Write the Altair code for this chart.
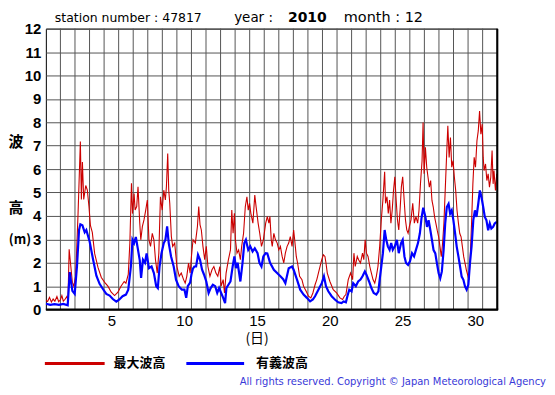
import altair as alt
import pandas as pd

# ---- data (days elapsed since 1 Dec 00:00, wave height in m) ----
red_t = [0.00,0.12,0.25,0.38,0.50,0.62,0.76,0.88,1.00,1.10,1.20,1.32,1.44,1.52,
 1.60,1.71,1.82,1.92,2.05,2.21,2.37,2.44,2.51,2.60,2.74,2.85,2.96,3.06,3.19,3.35,3.58,3.81,4.04,4.26,4.49,4.72,4.95,
 5.16,5.38,5.50,5.66,5.77,5.88,5.95,6.06,6.13,6.24,6.33,6.45,6.52,6.63,6.74,6.86,6.97,7.08,7.19,7.31,7.42,7.53,7.65,7.76,7.87,7.99,8.10,8.21,8.28,8.37,8.44,8.51,8.62,8.71,8.85,9.00,9.16,9.30,9.46,9.57,9.68,9.80,9.91,
 10.00,10.11,10.27,10.41,10.50,10.59,10.68,10.79,10.91,11.02,11.13,11.27,11.41,11.54,11.68,11.81,11.95,12.04,12.18,12.27,12.38,12.54,12.68,12.77,12.86,12.95,13.02,13.13,13.24,13.36,13.45,13.58,13.70,13.81,13.90,13.99,14.08,14.22,14.35,14.44,14.58,14.69,14.81,14.94,15.10,15.21,
 15.32,15.39,15.48,15.55,15.66,15.77,15.89,16.00,16.11,16.23,16.34,16.45,16.57,16.68,16.79,16.91,17.02,17.09,17.20,17.29,17.43,17.59,17.70,17.88,18.04,18.20,18.34,18.49,18.61,18.72,18.83,18.95,19.06,19.17,19.24,19.33,19.51,19.74,19.97,20.20,20.38,
 20.50,20.61,20.77,20.93,21.07,21.16,21.25,21.39,21.48,21.61,21.75,21.84,21.93,22.02,22.13,22.25,22.36,22.47,22.59,22.70,22.81,22.93,23.04,23.15,23.27,23.33,23.43,23.52,23.61,23.70,23.79,23.88,23.97,24.06,24.15,24.24,24.33,24.42,24.51,24.61,24.70,24.79,24.88,24.97,25.08,25.20,25.31,25.42,25.54,25.63,
 25.73,25.84,25.91,25.98,26.07,26.16,26.25,26.34,26.43,26.52,26.61,26.70,26.79,26.88,26.98,27.07,27.16,27.25,27.34,27.43,27.52,27.61,27.70,27.79,27.88,27.97,28.06,28.15,28.24,28.34,28.43,28.52,28.61,28.70,28.79,28.88,28.97,29.06,29.15,29.24,29.33,29.42,29.51,29.61,29.70,29.79,29.88,29.97,30.04,30.10,30.20,30.29,30.38,30.47,30.56,30.65,30.72,30.78,30.88,30.97]
red_v = [0.40,0.35,0.52,0.32,0.45,0.36,0.56,0.34,0.42,0.60,0.36,0.44,0.56,0.40,
 2.58,1.87,1.16,1.00,1.45,4.07,7.18,4.70,6.30,4.70,5.30,5.10,4.40,3.60,3.30,2.40,1.80,1.37,1.16,1.00,0.74,0.60,0.74,
 1.00,1.20,1.13,1.50,2.84,5.39,4.10,4.96,4.25,4.40,5.25,3.69,2.98,3.55,3.83,4.25,4.68,2.98,2.70,3.26,2.98,2.13,1.56,2.41,4.82,4.25,5.10,4.68,5.25,6.67,5.10,4.54,3.12,2.70,2.84,1.84,1.42,1.56,1.28,1.13,1.42,1.99,1.56,
 2.27,2.98,2.84,3.55,4.40,3.62,3.40,2.70,2.13,2.70,1.84,1.42,1.70,1.84,1.56,1.42,1.84,1.00,1.28,0.71,1.56,2.13,2.55,4.25,3.26,4.11,2.98,2.41,2.55,2.13,2.70,3.26,4.40,4.82,4.25,4.54,4.11,3.69,4.89,4.40,3.69,3.26,2.70,2.98,3.69,3.97,
 3.69,3.97,2.98,2.70,3.26,2.98,2.84,2.55,2.70,2.27,1.99,2.41,2.70,2.84,3.12,2.70,3.40,2.98,2.27,1.99,1.42,1.28,1.00,0.78,0.57,0.50,0.71,1.06,1.28,1.56,1.84,2.13,2.34,2.27,1.99,1.56,1.20,0.85,0.71,0.50,0.43,
 0.57,0.64,1.28,1.56,1.28,2.41,1.84,2.27,2.13,1.99,2.41,2.13,2.98,2.41,2.27,1.84,1.56,1.28,1.13,1.42,1.84,2.70,3.83,4.68,5.89,4.54,4.82,4.11,4.68,3.69,4.25,5.10,5.67,4.68,3.83,3.40,4.25,5.25,5.67,4.68,3.83,3.40,3.26,3.55,3.83,4.54,3.69,3.97,3.69,4.24,
 5.37,6.36,7.99,5.80,6.93,6.08,5.65,5.23,5.51,4.66,4.38,3.96,3.68,3.39,3.11,2.69,2.26,2.83,3.68,5.09,6.50,7.85,6.50,7.35,6.08,6.36,5.65,5.09,4.24,3.68,3.25,3.11,2.69,2.26,1.98,1.70,1.48,1.27,2.26,3.68,5.37,6.50,6.08,7.21,7.63,8.48,7.49,7.92,6.50,5.94,6.22,5.51,5.80,5.23,5.65,6.79,5.37,5.94,5.09,5.80]

blue_t = [0.00,0.30,0.60,0.90,1.20,1.50,1.64,1.82,1.98,2.14,2.28,2.37,2.51,2.67,2.78,3.01,3.24,3.47,3.69,3.92,4.15,4.38,4.60,4.84,5.05,5.27,5.50,5.66,5.84,5.95,6.06,6.18,6.29,6.45,6.54,6.67,6.81,6.92,7.08,7.26,7.42,7.58,7.69,7.81,7.94,8.10,8.21,8.33,8.44,8.60,8.78,8.94,9.12,9.34,9.52,9.64,9.75,9.91,
 10.00,10.10,10.20,10.32,10.45,10.59,10.73,10.86,11.02,11.18,11.32,11.47,11.63,11.77,11.90,12.04,12.18,12.31,12.40,12.54,12.68,12.83,12.95,13.06,13.17,13.36,13.51,13.63,13.74,13.90,14.04,14.20,14.35,14.54,14.67,14.81,14.94,15.10,15.21,15.40,15.66,15.90,16.11,16.30,16.45,16.68,16.91,17.02,17.25,17.47,17.70,17.93,18.15,18.34,18.49,18.72,18.95,19.10,19.24,19.40,19.63,19.85,
 20.08,20.31,20.45,20.61,20.71,20.84,21.00,21.11,21.29,21.45,21.61,21.75,21.91,22.02,22.20,22.36,22.52,22.70,22.84,22.93,23.04,23.15,23.27,23.38,23.49,23.61,23.72,23.83,23.97,24.11,24.24,24.40,24.51,24.63,24.74,24.88,25.01,25.15,25.29,25.42,25.56,25.69,25.80,25.92,
 26.07,26.18,26.29,26.41,26.52,26.63,26.75,26.86,26.98,27.09,27.20,27.32,27.43,27.54,27.66,27.77,27.88,27.99,28.11,28.22,28.34,28.45,28.56,28.68,28.79,28.90,29.02,29.13,29.24,29.36,29.47,29.58,29.70,29.81,29.92,30.04,30.15,30.26,30.38,30.49,30.60,30.72,30.83,30.97]
blue_v = [0.25,0.20,0.23,0.20,0.24,0.18,1.60,0.80,0.67,1.87,3.40,3.64,3.60,3.30,3.40,2.90,2.15,1.45,1.10,0.88,0.67,0.60,0.45,0.34,0.43,0.57,0.64,0.85,1.84,2.98,2.84,3.10,2.70,2.10,1.35,2.13,2.00,2.40,1.77,1.84,1.56,1.00,0.92,1.84,2.40,2.84,2.98,3.55,2.84,2.27,1.84,1.28,1.00,0.85,0.85,0.50,1.00,1.15,
 1.50,1.75,1.84,1.84,2.34,2.13,1.70,1.50,1.20,0.71,0.92,1.06,1.00,0.71,0.92,0.71,0.50,0.28,0.92,1.06,1.20,1.84,2.27,1.77,2.00,1.20,2.00,2.84,2.98,2.55,2.70,2.48,2.62,2.41,2.00,1.84,2.27,2.41,2.40,2.00,1.70,1.55,1.42,1.30,1.13,1.77,1.84,1.70,1.28,0.85,0.64,0.50,0.35,0.43,0.57,0.85,1.13,1.42,1.00,0.78,0.57,0.43,
 0.31,0.28,0.35,0.31,0.57,0.85,0.78,1.13,1.00,1.20,1.28,1.42,1.63,1.49,1.20,0.92,0.71,0.64,0.78,1.28,1.84,2.41,3.40,2.98,2.70,2.55,2.84,2.55,2.70,2.98,2.41,2.84,2.98,2.27,1.99,1.91,2.06,2.41,2.27,2.55,2.84,3.26,3.90,4.35,
 3.96,3.53,3.82,3.39,2.97,2.54,2.40,1.98,1.55,1.34,1.63,2.54,3.68,4.38,4.52,4.10,4.24,3.82,3.25,2.69,2.26,1.84,1.41,1.27,0.99,0.85,1.06,1.98,2.69,3.82,4.24,3.96,4.52,5.09,4.81,4.38,3.96,3.82,3.39,3.68,3.46,3.53,3.68,3.75]

x_grid = list(range(1, 31))          # day boundaries
y_ticks = list(range(0, 13))
x_label_days = [5, 10, 15, 20, 25, 30]

title_parts = ["station number : 47817", "year :", "2010", "month : 12"]
series_names = ["最大波高", "有義波高"]
series_colors = ["#cc0000", "#0000ff"]
copyright_text = "All rights reserved. Copyright © Japan Meteorological Agency"

W, H = 453, 282
red_df = pd.DataFrame({"t": red_t, "v": red_v})
blue_df = pd.DataFrame({"t": blue_t, "v": blue_v})
grid_df = pd.DataFrame({"g": x_grid})

xs = alt.Scale(domain=[0, 31], nice=False, zero=False)
ys = alt.Scale(domain=[0, 12], nice=False)

xaxis = alt.Axis(values=[d - 0.5 for d in x_label_days], labelExpr="format(datum.value + 0.5, 'd')",
                 grid=False, ticks=False, domain=False, labelFontSize=15, labelFont="Liberation Sans",
                 labelColor="black", labelPadding=4, title=None)
yaxis = alt.Axis(values=y_ticks, grid=True, gridColor="#555555", gridWidth=1, gridOpacity=1,
                 ticks=False, domain=False, labelFontSize=15, labelFontWeight="bold",
                 labelFont="Liberation Sans", labelColor="black", labelPadding=5, title=None)

vgrid = alt.Chart(grid_df).mark_rule(color="#555555", strokeWidth=1).encode(
    x=alt.X("g:Q", scale=xs, axis=xaxis))

red_line = alt.Chart(red_df).mark_line(color=series_colors[0], strokeWidth=1.1, clip=True).encode(
    x=alt.X("t:Q", scale=xs, axis=xaxis), y=alt.Y("v:Q", scale=ys, axis=yaxis))
blue_line = alt.Chart(blue_df).mark_line(color=series_colors[1], strokeWidth=2.2, clip=True).encode(
    x=alt.X("t:Q", scale=xs, axis=xaxis), y=alt.Y("v:Q", scale=ys, axis=yaxis))

one = pd.DataFrame({"k": [0]})

def txt(s, x, y, size=14, weight="normal", font="Liberation Sans", align="left", color="black",
        baseline="middle"):
    return alt.Chart(pd.DataFrame({"s": [s]})).mark_text(
        fontSize=size, fontWeight=weight, font=font, align=align, baseline=baseline, color=color
    ).encode(x=alt.value(x), y=alt.value(y), text="s:N")

def hrule(x1, x2, y, color, w):
    return alt.Chart(one).mark_rule(color=color, strokeWidth=w).encode(
        x=alt.value(x1), x2=alt.value(x2), y=alt.value(y))

# frame edges (heavier right/bottom)
right_edge = alt.Chart(one).mark_rule(color="black", strokeWidth=2).encode(
    x=alt.value(W), y=alt.value(0), y2=alt.value(H))
bottom_edge = hrule(0, W + 1, H, "black", 2)

ox, oy = 46, 28  # plot origin in page pixels
layers = [
    vgrid, red_line, blue_line, right_edge, bottom_edge,
    txt(title_parts[0], 55 - ox, 17 - oy, 12.5, font="DejaVu Sans"),
    txt(title_parts[1], 235 - ox, 17 - oy, 13.5, font="DejaVu Sans"),
    txt(title_parts[2], 289 - ox, 17 - oy, 14, "bold", font="DejaVu Sans"),
    txt(title_parts[3], 345 - ox, 17 - oy, 14.5, font="DejaVu Sans"),
    txt("波", 16 - ox, 142 - oy, 15, "bold", "Noto Sans CJK JP", "center"),
    txt("高", 16 - ox, 208 - oy, 15, "bold", "Noto Sans CJK JP", "center"),
    txt("(m)", 20 - ox, 240 - oy, 13, "bold", "Noto Sans CJK JP", "center"),
    txt("(日)", 258 - ox, 340 - oy, 14, "normal", "Noto Sans CJK JP", "center"),
    hrule(45 - ox, 105 - ox, 364 - oy, series_colors[0], 3),
    txt(series_names[0], 114 - ox, 364 - oy, 13, "bold", "Noto Sans CJK JP"),
    hrule(187 - ox, 245 - ox, 364 - oy, series_colors[1], 3),
    txt(series_names[1], 257 - ox, 364 - oy, 13, "bold", "Noto Sans CJK JP"),
    txt(copyright_text, 548 - ox, 383 - oy, 10, "normal", "DejaVu Sans", "right", "#3838d8"),
]

chart = alt.layer(*layers).properties(
    width=W, height=H,
    autosize=alt.AutoSizeParams(type="none"),
    padding={"left": 38, "top": 20, "right": 50, "bottom": 78},
).configure_view(stroke="black", strokeWidth=1)

chart.save("out.html", embed_options={"renderer": "svg", "actions": False})
